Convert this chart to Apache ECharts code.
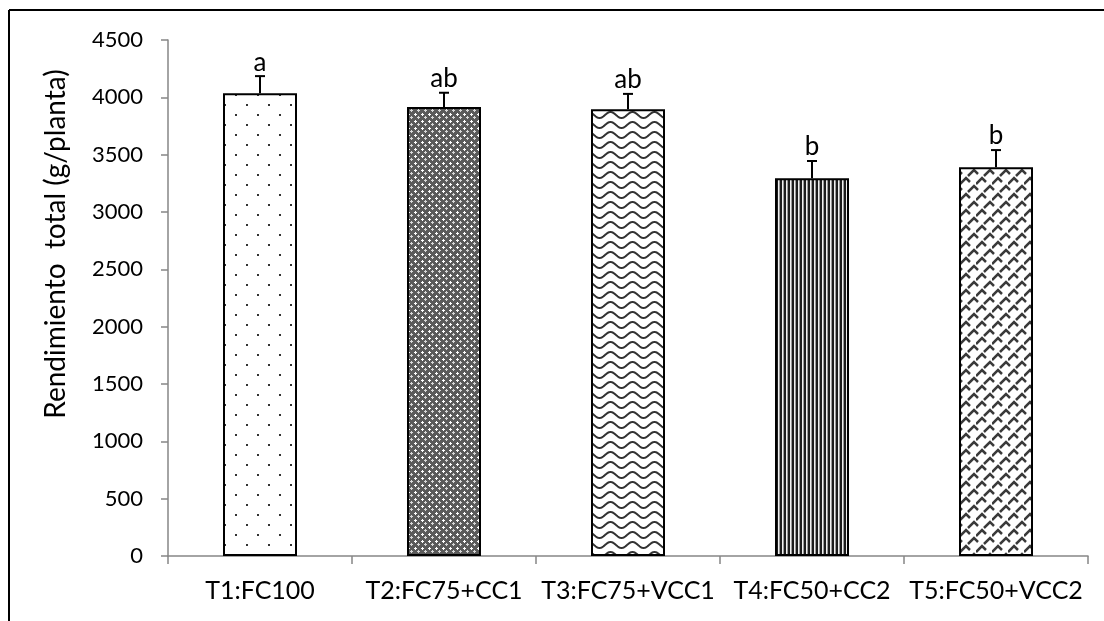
<!DOCTYPE html>
<html>
<head>
<meta charset="utf-8">
<script src="https://cdn.jsdelivr.net/npm/echarts@6/dist/echarts.min.js"></script>
<style>
  html, body { margin: 0; padding: 0; background: #fff; }
  #chart { width: 1104px; height: 621px; }
</style>
</head>
<body>
<div id="chart"></div>
<script>
// datos del gráfico
const tratamientos = ['T1:FC100', 'T2:FC75+CC1', 'T3:FC75+VCC1', 'T4:FC50+CC2', 'T5:FC50+VCC2'];
const rendimiento = [4035, 3915, 3895, 3295, 3390];
const errorEstandar = [150, 125, 135, 150, 150];
const letras = ['a', 'ab', 'ab', 'b', 'b'];
const ticksY = [0, 500, 1000, 1500, 2000, 2500, 3000, 3500, 4000, 4500];
const tituloY = 'Rendimiento  total (g/planta)';

const FONT = 'Lato, "Open Sans", sans-serif';

// [A] Tramas de relleno (estilo Excel)
function makeTile(w, h, draw) {
  const c = document.createElement('canvas');
  c.width = w; c.height = h;
  const ctx = c.getContext('2d');
  ctx.fillStyle = '#fff';
  ctx.fillRect(0, 0, w, h);
  draw(ctx);
  return { image: c, repeat: 'repeat' };
}

const patDots = makeTile(22, 20, ctx => {
  ctx.fillStyle = '#333';
  ctx.fillRect(4, 4, 2, 2);
  ctx.fillRect(15, 14, 2, 2);
});

const patCross = makeTile(7, 7, ctx => {
  ctx.fillStyle = '#5a5a5a';
  ctx.fillRect(0, 0, 7, 7);
  ctx.fillStyle = '#fff';
  ctx.fillRect(1, 2, 3, 1);
  ctx.fillRect(2, 1, 1, 3);
  ctx.fillStyle = '#d8d8d8';
  ctx.fillRect(4, 5, 3, 1);
  ctx.fillRect(5, 4, 1, 3);
});

const patWave = makeTile(22, 10, ctx => {
  ctx.strokeStyle = '#333';
  ctx.lineWidth = 2;
  ctx.beginPath();
  for (let x = -1; x <= 23; x += 0.5) {
    const y = 5 + 3 * Math.sin((x / 22) * Math.PI * 2);
    if (x === -1) ctx.moveTo(x, y); else ctx.lineTo(x, y);
  }
  ctx.stroke();
});

const patStripes = makeTile(4, 4, ctx => {
  ctx.fillStyle = '#1c1c1c';
  ctx.fillRect(0, 0, 2, 4);
  ctx.fillStyle = '#f0f0f0';
  ctx.fillRect(2, 0, 1, 4);
  ctx.fillStyle = '#9a9a9a';
  ctx.fillRect(3, 0, 1, 4);
});

const patWeave = makeTile(16, 16, ctx => {
  ctx.strokeStyle = '#3a3a3a';
  ctx.lineWidth = 2.5;
  ctx.beginPath();
  ctx.moveTo(0, 8); ctx.lineTo(6, 2); ctx.lineTo(10, 6);
  ctx.moveTo(8, 16); ctx.lineTo(14, 10); ctx.lineTo(18, 14);
  ctx.moveTo(-8, 16); ctx.lineTo(-2, 10); ctx.lineTo(2, 14);
  ctx.moveTo(8, 0); ctx.lineTo(10, -2);
  ctx.stroke();
});

const tramas = [patDots, patCross, patWave, patStripes, patWeave];

const chartDom = document.getElementById('chart');
const myChart = echarts.init(chartDom, null, { renderer: 'canvas' });

const option = {
  animation: false,
  backgroundColor: '#fff',
  graphic: [
    { type: 'line', shape: { x1: 9, y1: 10, x2: 9, y2: 621 }, style: { stroke: '#000', lineWidth: 2 } },
    { type: 'line', shape: { x1: 9, y1: 10, x2: 1104, y2: 10 }, style: { stroke: '#000', lineWidth: 2 } },
    {
      // título del eje Y (en Excel no queda centrado en el eje)
      type: 'text', x: 56, y: 244, rotation: Math.PI / 2,
      style: { text: tituloY, align: 'center', verticalAlign: 'middle', fill: '#000', font: '28px ' + FONT }
    }
  ],
  grid: { left: 168, right: 16, top: 40, bottom: 65 },
  xAxis: {
    type: 'category',
    data: tratamientos,
    axisLine: { lineStyle: { color: '#868686', width: 1.5 } },
    axisTick: { show: true, length: 8, alignWithLabel: false, lineStyle: { color: '#868686', width: 1.5 } },
    axisLabel: { color: '#000', fontFamily: FONT, fontSize: 25, margin: 22, interval: 0 }
  },
  yAxis: {
    type: 'value',
    min: ticksY[0],
    max: ticksY[ticksY.length - 1],
    interval: 500,
    axisLine: { show: true, lineStyle: { color: '#868686', width: 1.5 } },
    axisTick: { show: true, length: 7, lineStyle: { color: '#868686', width: 1.5 } },
    axisLabel: { color: '#000', fontFamily: FONT, fontSize: 22, margin: 25, formatter: v => String(v) },
    splitLine: { show: false }
  },
  series: [
    {
      type: 'bar',
      barWidth: 74,
      data: rendimiento.map((v, i) => ({
        value: v,
        itemStyle: { color: tramas[i], borderColor: '#000', borderWidth: 2 }
      }))
    },
    {
      // barras de error (solo hacia arriba) + letras de significancia
      type: 'custom',
      data: rendimiento.map((v, i) => [i, v, errorEstandar[i]]),
      z: 5,
      renderItem: function (params, api) {
        const i = api.value(0);
        const base = api.coord([i, api.value(1)]);
        const top = api.coord([i, api.value(1) + api.value(2)]);
        const st = { stroke: '#000', lineWidth: 2 };
        return {
          type: 'group',
          children: [
            { type: 'line', shape: { x1: base[0], y1: base[1], x2: top[0], y2: top[1] }, style: st },
            { type: 'line', shape: { x1: top[0] - 5, y1: top[1], x2: top[0] + 5, y2: top[1] }, style: st },
            {
              type: 'text',
              style: {
                text: letras[params.dataIndex],
                x: top[0], y: top[1] - 1,
                align: 'center', verticalAlign: 'bottom',
                fill: '#000', font: '26px ' + FONT
              }
            }
          ]
        };
      }
    }
  ]
};

myChart.setOption(option);
</script>
</body>
</html>
